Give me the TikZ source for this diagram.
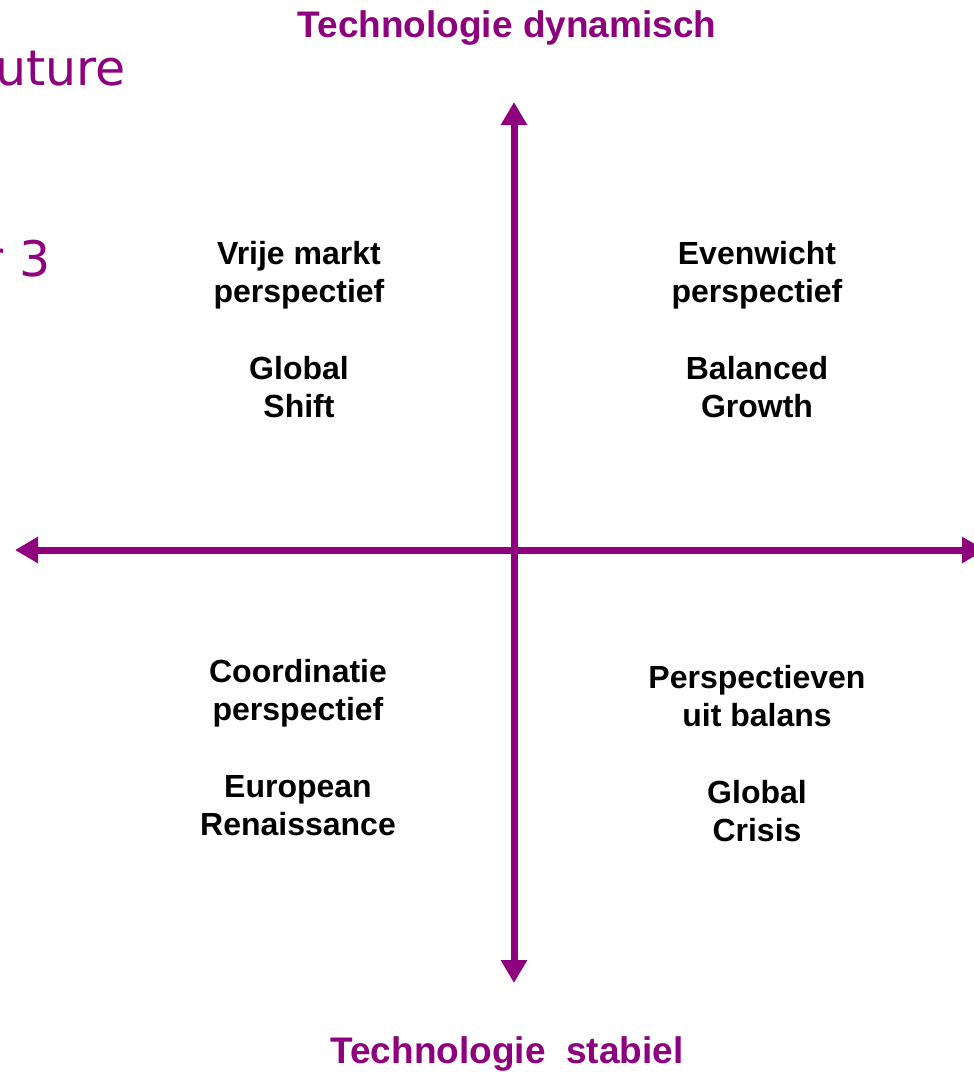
\documentclass[tikz,border=0pt]{standalone}
\usepackage{fontspec}
\setmainfont{Liberation Sans}
\newfontfamily\verd{DejaVu Sans}
\usetikzlibrary{arrows.meta}
\definecolor{plum}{RGB}{142,0,126}
\begin{document}
\begin{tikzpicture}[x=1pt,y=-1pt,
  axis/.style={draw=plum,line width=7pt,{Triangle[length=23pt,width=25pt]}-{Triangle[length=23pt,width=25pt]}},
  lab/.style={font=\fontsize{32}{38}\selectfont\bfseries,anchor=base,inner sep=0pt},
  ttl/.style={font=\fontsize{37}{40}\selectfont\bfseries,text=plum,anchor=base,inner sep=0pt},
  frag/.style={font=\verd\fontsize{49}{56}\selectfont,text=plum,anchor=base east,inner sep=0pt}]
\useasboundingbox (0,0) rectangle (974,1072);
\clip (0,0) rectangle (974,1072);
% axes
\coordinate (top) at (514,102);
\coordinate (bot) at (514,983);
\coordinate (left) at (15,550);
\coordinate (right) at (985,550);
\draw[axis] (bot) -- (top);
\draw[axis] (left) -- (right);
% titles
\node[ttl] (tdyn) at (507,37) {Technologie dynamisch};
\node[ttl] (tsta) at (507,1063) {Technologie~~stabiel};
% clipped slide text
\node[frag] (future) at (126,85) {uture};
\node[frag] (three) at (51,276) {r 3};
% top left
\node[lab] (tl1) at (299,264) {Vrije markt};
\node[lab] (tl2) at (299,302) {perspectief};
\node[lab] (tl3) at (299,379) {Global};
\node[lab] (tl4) at (299,417) {Shift};
% top right
\node[lab] (tr1) at (757,264) {Evenwicht};
\node[lab] (tr2) at (757,302) {perspectief};
\node[lab] (tr3) at (757,379) {Balanced};
\node[lab] (tr4) at (757,417) {Growth};
% bottom left
\node[lab] (bl1) at (298,682) {Coordinatie};
\node[lab] (bl2) at (298,720) {perspectief};
\node[lab] (bl3) at (298,797) {European};
\node[lab] (bl4) at (298,835) {Renaissance};
% bottom right
\node[lab] (br1) at (757,688) {Perspectieven};
\node[lab] (br2) at (757,726) {uit balans};
\node[lab] (br3) at (757,803) {Global};
\node[lab] (br4) at (757,841) {Crisis};
\end{tikzpicture}
\end{document}
